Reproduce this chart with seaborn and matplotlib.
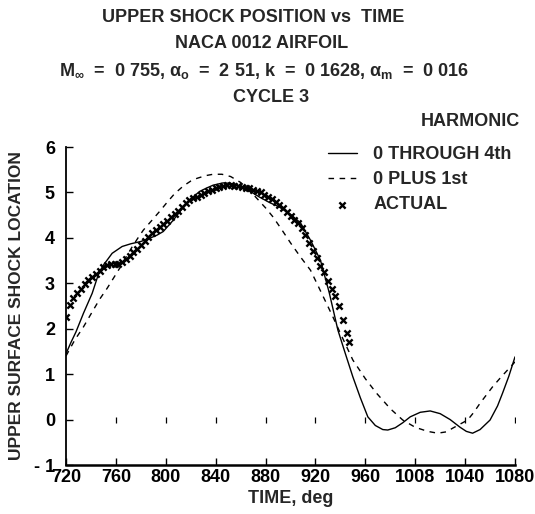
import numpy as np
import pandas as pd
import seaborn as sns
import matplotlib
matplotlib.use("Agg")
import matplotlib.pyplot as plt

# ---- data ----
time_4th = [720, 724, 728, 734, 741, 746, 750, 757, 765, 772, 780, 787, 793, 798,
            806, 812, 817, 822, 827, 833, 838, 846, 852, 860, 868, 875, 883, 891,
            900, 908, 916, 924, 931, 938, 944, 950, 956, 962, 968, 974, 978, 984,
            990, 996, 1004, 1012, 1020, 1028, 1036, 1041, 1046, 1052, 1060, 1066,
            1070, 1075, 1080]
shock_4th = [1.45, 1.70, 1.93, 2.34, 2.78, 3.20, 3.40, 3.66, 3.81, 3.87, 3.92, 3.99,
             4.06, 4.14, 4.39, 4.60, 4.76, 4.90, 5.02, 5.10, 5.16, 5.21, 5.20, 5.12,
             5.02, 4.90, 4.78, 4.68, 4.52, 4.33, 3.95, 3.51, 2.80, 1.97, 1.45, 0.94,
             0.48, 0.06, -0.13, -0.22, -0.23, -0.18, -0.07, 0.06, 0.16, 0.19, 0.13,
             0.00, -0.17, -0.26, -0.30, -0.22, -0.01, 0.30, 0.58, 0.95, 1.38]

time_1st = [720, 727, 734, 741, 747, 753, 758, 763, 768, 773, 778, 782, 789, 795,
            801, 807, 814, 820, 825, 832, 838, 845, 852, 860, 867, 874, 880, 886,
            893, 900, 908, 916, 922, 926, 934, 942, 950, 960, 969, 980, 990, 1000,
            1010, 1018, 1025, 1030, 1036, 1042, 1047, 1052, 1057, 1062, 1068, 1074,
            1080]
shock_1st = [1.40, 1.75, 2.04, 2.37, 2.65, 2.89, 3.11, 3.33, 3.57, 3.80, 4.01, 4.17,
             4.39, 4.58, 4.78, 4.97, 5.14, 5.25, 5.31, 5.37, 5.40, 5.40, 5.35, 5.22,
             5.05, 4.84, 4.66, 4.46, 4.18, 3.89, 3.58, 3.29, 2.95, 2.72, 2.26, 1.78,
             1.31, 0.90, 0.58, 0.24, -0.01, -0.17, -0.26, -0.30, -0.27, -0.19, -0.10,
             -0.01, 0.16, 0.36, 0.54, 0.72, 0.91, 1.09, 1.27]

time_actual = [720, 723, 726, 729, 732, 735, 738, 741, 744, 747, 750, 753, 756, 759,
               762, 765, 768, 771, 774, 777, 780, 783, 786, 789, 792, 795, 798, 801,
               804, 807, 810, 813, 816, 819, 822, 825, 828, 831, 834, 837, 840, 843,
               846, 849, 852, 855, 858, 861, 864, 867, 870, 873, 876, 879, 882, 885,
               888, 891, 894, 897, 900, 903, 906, 909, 912, 915, 918, 921, 924, 927,
               930, 933, 936, 939, 942, 945, 947]
shock_actual = [2.26, 2.52, 2.68, 2.79, 2.87, 2.98, 3.07, 3.13, 3.20, 3.27, 3.35, 3.40,
                3.42, 3.42, 3.43, 3.46, 3.53, 3.59, 3.68, 3.75, 3.85, 3.93, 4.02, 4.10,
                4.17, 4.24, 4.31, 4.37, 4.45, 4.53, 4.60, 4.67, 4.76, 4.83, 4.87, 4.91,
                4.95, 4.99, 5.03, 5.06, 5.10, 5.12, 5.14, 5.16, 5.16, 5.15, 5.14, 5.12,
                5.10, 5.09, 5.06, 5.04, 5.01, 4.95, 4.90, 4.85, 4.79, 4.73, 4.65, 4.57,
                4.49, 4.40, 4.32, 4.22, 4.07, 3.88, 3.71, 3.55, 3.39, 3.25, 3.05, 2.88,
                2.71, 2.50, 2.20, 1.90, 1.70]

x_ticks = [720, 760, 800, 840, 880, 920, 960, 1000, 1040, 1080]
x_ticklabels = ["720", "760", "800", "840", "880", "920", "960", "1008", "1040", "1080"]
y_ticks = [-1, 0, 1, 2, 3, 4, 5, 6]
y_ticklabels = ["- 1", "0", "1", "2", "3", "4", "5", "6"]
zero_marks = [760, 800, 840, 880, 920, 960, 1000, 1040, 1080]

df_4th = pd.DataFrame({"time": time_4th, "shock": shock_4th})
df_1st = pd.DataFrame({"time": time_1st, "shock": shock_1st})
df_act = pd.DataFrame({"time": time_actual, "shock": shock_actual})
df_zero = pd.DataFrame({"time": zero_marks, "shock": [0] * len(zero_marks)})

sns.set_theme(style="ticks")
plt.rcParams['font.family'] = ['Liberation Sans', 'DejaVu Sans']
plt.rcParams['font.weight'] = 'bold'
plt.rcParams['mathtext.fontset'] = 'custom'
plt.rcParams['mathtext.rm'] = 'Liberation Sans:bold'
plt.rcParams['mathtext.it'] = 'Liberation Sans:bold'
plt.rcParams['mathtext.bf'] = 'Liberation Sans:bold'

fs = 13

fig = plt.figure(figsize=(5.35, 5.14), dpi=100)
ax = fig.add_axes([66 / 535, 1 - 465 / 514, 449 / 535, 318 / 514])

sns.lineplot(data=df_4th, x="time", y="shock", color="black", lw=1.0,
             label="0 THROUGH 4th", ax=ax)
sns.lineplot(data=df_1st, x="time", y="shock", color="black", lw=1.0,
             linestyle="--", label="0 PLUS 1st", ax=ax)
ax.lines[-1].set_dashes([4, 4])
sns.scatterplot(data=df_act, x="time", y="shock", marker="x", color="black",
                s=20, linewidth=1.7, label="ACTUAL", ax=ax, zorder=3)
# little marks along the zero line
sns.scatterplot(data=df_zero, x="time", y="shock", marker="|", color="black",
                s=22, linewidth=0.9, ax=ax, legend=False)

ax.set_xlim(720, 1080)
ax.set_ylim(-1, 6)
ax.set_xticks(x_ticks)
ax.set_xticklabels(x_ticklabels)
ax.set_yticks(y_ticks)
ax.set_yticklabels(y_ticklabels)
ax.tick_params(direction="in", length=5, width=1.0, colors="black",
               labelsize=fs, pad=3)
ax.tick_params(axis="y", pad=8)
for lab in ax.get_xticklabels() + ax.get_yticklabels():
    lab.set_fontweight("bold")
sns.despine(ax=ax)
ax.spines["left"].set_linewidth(1.3)
ax.spines["bottom"].set_linewidth(1.8)
ax.spines["left"].set_color("black")
ax.spines["bottom"].set_color("black")
ax.set_xlabel("TIME, deg", fontsize=fs, fontweight="bold", labelpad=3)
ax.set_ylabel("UPPER SURFACE SHOCK LOCATION", fontsize=12.5, fontweight="bold",
              labelpad=7)
ax.grid(False)

ax.legend(loc="upper left", bbox_to_anchor=(328 / 535, 1 - 146 / 514),
          bbox_transform=fig.transFigure, frameon=False, fontsize=fs,
          handlelength=1.6, handletextpad=0.9, labelspacing=0.45,
          borderpad=0, borderaxespad=0)
fig.text(470 / 535, 1 - 121 / 514, "HARMONIC", ha="center", va="center",
         fontsize=fs, fontweight="bold")

fig.text(253 / 535, 1 - 18 / 514, "UPPER SHOCK POSITION vs  TIME", ha="center",
         va="center", fontsize=fs, fontweight="bold")
fig.text(262 / 535, 1 - 44 / 514, "NACA 0012 AIRFOIL", ha="center", va="center",
         fontsize=fs, fontweight="bold")
fig.text(264 / 535, 1 - 71 / 514,
         r"M$_{\infty}$  =  0 755, $\alpha_{\mathrm{o}}$  =  2 51, k  =  0 1628, "
         r"$\alpha_{\mathrm{m}}$  =  0 016",
         ha="center", va="center", fontsize=fs, fontweight="bold")
fig.text(271 / 535, 1 - 97 / 514, "CYCLE 3", ha="center", va="center",
         fontsize=fs, fontweight="bold")

fig.savefig("out.png", dpi=100)
